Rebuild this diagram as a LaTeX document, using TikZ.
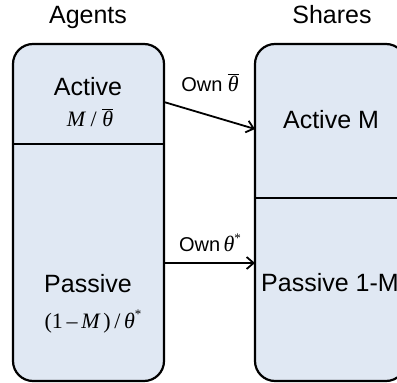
\documentclass[tikz,border=0pt]{standalone}
\usepackage{fontspec}
\setmainfont{Liberation Sans}
\newfontfamily\tms{Liberation Serif}
\usetikzlibrary{arrows.meta}
\definecolor{boxfill}{HTML}{E0E8F3}
\begin{document}
\begin{tikzpicture}[x=1pt,y=-1pt,
  boxline/.style={draw=black, line width=2.2pt, fill=boxfill, rounded corners=20pt},
  divline/.style={draw=black, line width=2.2pt},
  conn/.style={line width=1.8pt, -{Straight Barb[length=7pt,width=12pt,line width=1.8pt]}},
  big/.style={font=\fontsize{25}{29}\selectfont, inner sep=0pt, anchor=base},
  mth/.style={font=\fontsize{22}{26}\selectfont\tms, inner sep=0pt, anchor=base},
  lbl/.style={font=\fontsize{20}{24}\selectfont, inner sep=0pt, anchor=base}]
\useasboundingbox (0,0) rectangle (397,383);
\clip (0,0) rectangle (397,383);
% boxes
\path[boxline] (13,44) rectangle (164,381);
\draw[divline] (13,144) -- (164,144);
\path[boxline] (255,44) rectangle (406,381);
\draw[divline] (255,198) -- (406,198);
% headers
\node[big] (agents) at (88,23) {Agents};
\node[big] (shares) at (332,23) {Shares};
% left texts
\node[big] (active) at (88,95) {Active};
\node[mth] (mtheta) at (90,126) {{\itshape M} / $\overline{\hbox{\tms\itshape θ}}$};
\node[big] (passive) at (88,292) {Passive};
\node[mth] (mstar) at (93,328) {(1\,–\,{\itshape M}\,)\,/\,{\itshape θ}\raisebox{0.45em}{\fontsize{13}{14}\selectfont *}};
% right texts
\node[big] (activeM) at (331,128) {Active M};
\node[big] (passiveM) at (330,291) {Passive 1-M};
% connector labels
\node[lbl] (own1) at (210,91) {Own {\fontsize{22}{26}\selectfont$\overline{\hbox{\tms\itshape θ}}$}};
\node[lbl] (own2) at (210,251) {Own\,{\fontsize{22}{26}\selectfont\tms\itshape θ}\raisebox{0.45em}{\fontsize{13}{14}\selectfont\tms *}};
% connector ends
\coordinate (a1s) at (164,102);
\coordinate (a1e) at (255,129);
\coordinate (a2s) at (164,263);
\coordinate (a2e) at (255,263);
\draw[conn] (a1s) -- (a1e);
\draw[conn] (a2s) -- (a2e);
\end{tikzpicture}
\end{document}
